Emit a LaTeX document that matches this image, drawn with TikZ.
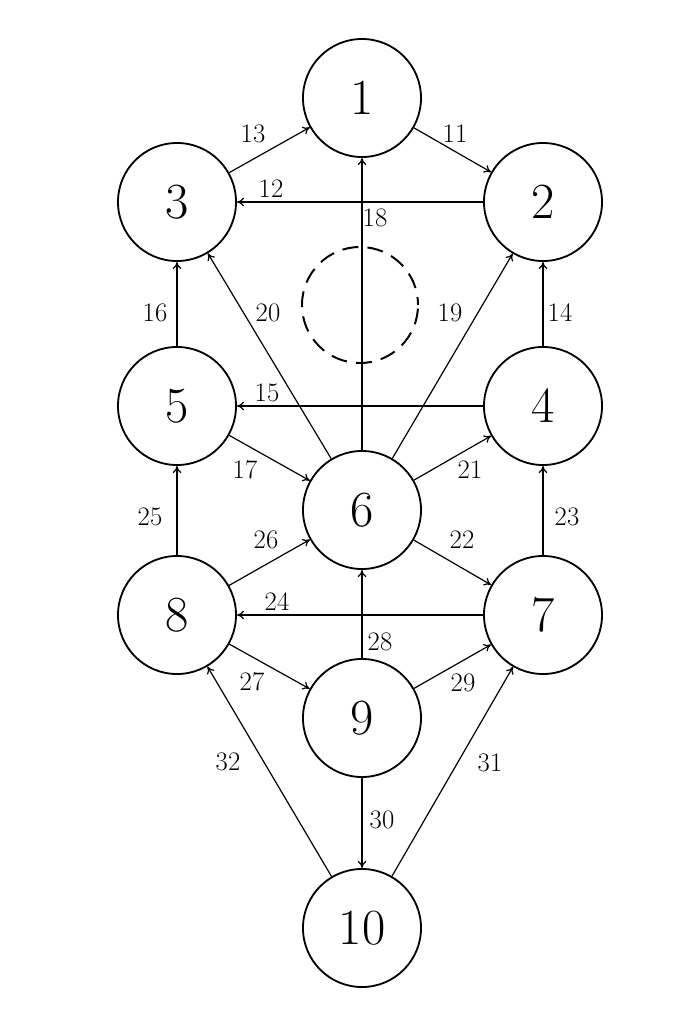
\documentclass[tikz,border=0pt]{standalone}
\usepackage{fontspec}
\usetikzlibrary{arrows.meta}

\begin{document}
\begin{tikzpicture}[x=0.025cm,y=-0.025cm,
    sefira/.style={draw,circle,line width=1.3pt,minimum size=2.95cm,inner sep=0pt,
      font=\fontsize{36}{40}\selectfont},
    channel/.style={-{To[length=5pt,width=6pt]},line width=0.85pt},
    num/.style={font=\fontsize{19}{22}\selectfont,inner sep=1pt}]
    \useasboundingbox (0,0) rectangle (696,1023);
    \node[sefira] (n1) at (362,98) {1};
    \node[sefira] (n2) at (543,202) {2};
    \node[sefira] (n3) at (177,202) {3};
    \node[sefira] (n4) at (543,406) {4};
    \node[sefira] (n5) at (177,406) {5};
    \node[sefira] (n6) at (362,510) {6};
    \node[sefira] (n7) at (543,615) {7};
    \node[sefira] (n8) at (177,615) {8};
    \node[sefira] (n9) at (362,718) {9};
    \node[sefira] (n10) at (362,928) {10};
    \draw[line width=1.4pt,dash pattern=on 0.4cm off 0.23cm,dash phase=0.2cm]
      (360,305) circle[radius=1.45cm];
    \foreach \s/\t in {n1/n2,n2/n3,n3/n1,n4/n2,n4/n5,n5/n3,n5/n6,n6/n1,n6/n2,n6/n3,n6/n4,
      n6/n7,n7/n4,n7/n8,n8/n5,n8/n6,n8/n9,n9/n6,n9/n7,n9/n10,n10/n7,n10/n8}
      \draw[channel] (\s) -- (\t);
    \foreach \x/\y/\t in {455/134/11,271/189/12,253/134/13,560/313/14,267/393/15,
      155/313/16,245/470/17,375/218/18,450/313/19,268/313/20,470/470/21,462/540/22,
      567/517/23,277/602/24,150/517/25,266/540/26,252/682/27,380/642/28,463/683/29,
      382/820/30,490/763/31,228/762/32}
      \node[num] (l\t) at (\x,\y) {\t};
\end{tikzpicture}
\end{document}
